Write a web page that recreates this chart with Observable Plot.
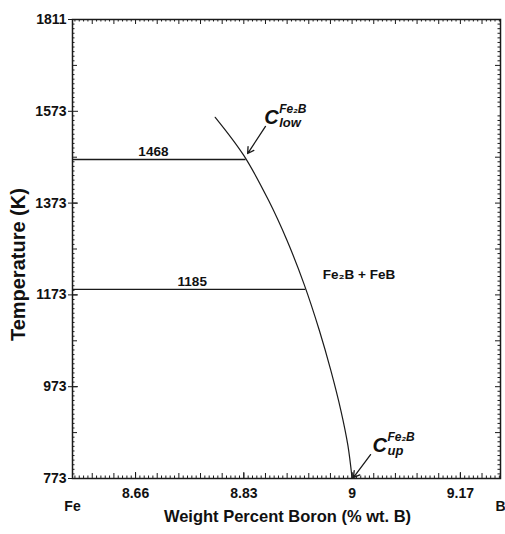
<!DOCTYPE html>
<html>
<head>
<meta charset="utf-8">
<script src="https://cdn.jsdelivr.net/npm/d3@7"></script>
<script src="https://cdn.jsdelivr.net/npm/@observablehq/plot@0.6"></script>
<style>
  html, body { margin: 0; padding: 0; background: #fff; }
  #chart svg { display: block; }
</style>
</head>
<body>
<div id="chart"></div>
<script>
// Fe–B phase diagram, detail of the Fe2B homogeneity range

// Axes
const xDomain = [8.561, 9.233];            // wt.% B across the frame
const yBreaks = [773, 1573, 1811];         // K; the top segment is compressed
const xTickValues = [8.66, 8.83, 9, 9.17];
const xTickLabels = ["8.66", "8.83", "9", "9.17"];
const yTickValues = [773, 973, 1173, 1373, 1573, 1811];
const yTickLabels = ["773", "973", "1173", "1373", "1573", "1811"];
const endLabels = ["Fe", "B"];
const xTitle = "Weight Percent Boron (% wt. B)";
const yTitle = "Temperature (K)";
const yTitleT = 1239;                      // temperature at which the y title is centred

// Fe2B boundary (wt.% B vs K)
const boundaryWt = [8.7851, 8.8299, 8.8688, 8.8977, 8.9247, 8.9485, 8.9667, 8.9824, 8.9934, 9.0];
const boundaryT  = [1560, 1477, 1379, 1292, 1196, 1096, 1008, 921, 845, 773];

// Isotherms
const isothermT = [1468, 1185];
const isothermEndWt = [8.8335, 8.9273];
const isothermLabelWt = [8.688, 8.749];

// Composition markers C_low / C_up
const markerSub = ["low", "up"];
const markerWt = [8.862, 9.032];
const markerT = [1545, 830];
const arrowFromWt = [8.864, 9.029];
const arrowFromT = [1540, 825];
const arrowToWt = [8.836, 9.002];
const arrowToT = [1481, 775];

// Phase field label
const fieldLabel = ["Fe₂B + FeB"];
const fieldWt = [8.954];
const fieldT = [1218];

// Layout
const width = 505, height = 534;
const marginTop = 19, marginRight = 5, marginBottom = 56, marginLeft = 72;
const innerW = width - marginLeft - marginRight;
const innerH = height - marginTop - marginBottom;
const yBottom = height - marginBottom;
const yRange = [yBottom, yBottom - 0.8 * innerH, marginTop];

// Minor / medium tick positions
const xTicks = d3.range(-14, 85).map(i => ({v: 8.66 + i * 0.0068, med: i % 5 === 0}))
  .filter(d => d.v > xDomain[0] && d.v < xDomain[1]);
const yTicks = [
  ...d3.range(783, 1573, 10).map(v => ({v, med: (v - 773) % 100 === 0})),
  ...d3.range(1, 20).map(j => ({v: 1573 + j * (1811 - 1573) / 20, med: j === 10}))
];
const minorLen = 2.5, medLen = 5;
const xMin = xTicks.filter(d => !d.med), xMed = xTicks.filter(d => d.med);
const yMin = yTicks.filter(d => !d.med), yMed = yTicks.filter(d => d.med);

const boundary = boundaryWt.map((w, i) => ({w, t: boundaryT[i]}));
const isotherms = isothermT.map((t, i) => ({t, w2: isothermEndWt[i], lw: isothermLabelWt[i]}));

const ink = "#1a1a1a";
const font = "'Liberation Sans', Arial, Helvetica, sans-serif";

const chart = Plot.plot({
  width, height, marginTop, marginRight, marginBottom, marginLeft,
  style: {fontFamily: font, fontSize: "14px", fontWeight: "bold", color: "#111", background: "#fff"},
  x: {domain: xDomain, axis: null},
  y: {type: "linear", domain: yBreaks, range: yRange, axis: null},
  marks: [
    // inward ticks on all four sides
    Plot.tickX(xMin, {x: "v", stroke: ink, strokeWidth: 1, insetTop: innerH - minorLen}),
    Plot.tickX(xMed, {x: "v", stroke: ink, strokeWidth: 1, insetTop: innerH - medLen}),
    Plot.tickX(xMin, {x: "v", stroke: ink, strokeWidth: 1, insetBottom: innerH - minorLen}),
    Plot.tickX(xMed, {x: "v", stroke: ink, strokeWidth: 1, insetBottom: innerH - medLen}),
    Plot.tickY(yMin, {y: "v", stroke: ink, strokeWidth: 1, insetRight: innerW - minorLen}),
    Plot.tickY(yMed, {y: "v", stroke: ink, strokeWidth: 1, insetRight: innerW - medLen}),
    Plot.tickY(yMin, {y: "v", stroke: ink, strokeWidth: 1, insetLeft: innerW - minorLen}),
    Plot.tickY(yMed, {y: "v", stroke: ink, strokeWidth: 1, insetLeft: innerW - medLen}),
    Plot.tickY(yTickValues, {y: d => d, stroke: ink, strokeWidth: 1, insetRight: innerW - 6}),
    Plot.tickX(xTickValues, {x: d => d, stroke: ink, strokeWidth: 1, insetTop: innerH - 6}),

    // labelled axes
    Plot.axisY({
      ticks: yTickValues, tickSize: 4, tickPadding: 2, stroke: ink,
      tickFormat: d => yTickLabels[yTickValues.indexOf(d)], label: null
    }),
    Plot.axisX({
      ticks: xTickValues, tickSize: 0, tickPadding: 10,
      tickFormat: d => xTickLabels[xTickValues.indexOf(d)], label: null
    }),
    Plot.text(endLabels, {x: xDomain, frameAnchor: "bottom", dy: 32, fontSize: 14}),

    Plot.frame({stroke: ink, strokeWidth: 1.5}),

    // isotherms and boundary
    Plot.ruleY(isotherms, {y: "t", x1: xDomain[0], x2: "w2", stroke: ink, strokeWidth: 1.3}),
    Plot.text(isotherms, {x: "lw", y: "t", text: d => String(d.t), lineAnchor: "bottom", dy: -3, fontSize: 13.5}),
    Plot.line(boundary, {x: "w", y: "t", curve: "catmull-rom", stroke: ink, strokeWidth: 1.2}),

    // C markers with arrows
    Plot.arrow(markerSub, {
      x1: arrowFromWt, y1: arrowFromT, x2: arrowToWt, y2: arrowToT,
      stroke: ink, strokeWidth: 1.3, headLength: 8
    }),
    Plot.text(markerSub, {x: markerWt, y: markerT, text: () => "C", textAnchor: "start", lineAnchor: "bottom",
      fontSize: 20, fontStyle: "italic", fontWeight: "bold"}),
    Plot.text(markerSub, {x: markerWt, y: markerT, text: () => "Fe₂B", textAnchor: "start", lineAnchor: "bottom",
      dx: 15, dy: -11, fontSize: 12, fontStyle: "italic", fontWeight: "bold"}),
    Plot.text(markerSub, {x: markerWt, y: markerT, text: d => d, textAnchor: "start", lineAnchor: "bottom",
      dx: 15, dy: 3, fontSize: 13, fontStyle: "italic", fontWeight: "bold"}),

    Plot.text(fieldLabel, {x: fieldWt, y: fieldT, text: d => d, textAnchor: "start", fontSize: 13.5}),

    // axis titles
    Plot.text([yTitle], {x: xDomain[0], y: [yTitleT], dx: -54, rotate: -90, fontSize: 20}),
    Plot.text([xTitle], {frameAnchor: "bottom", dy: 43, dx: 1, fontSize: 16.5})
  ]
});

document.getElementById("chart").appendChild(chart);
</script>
</body>
</html>
